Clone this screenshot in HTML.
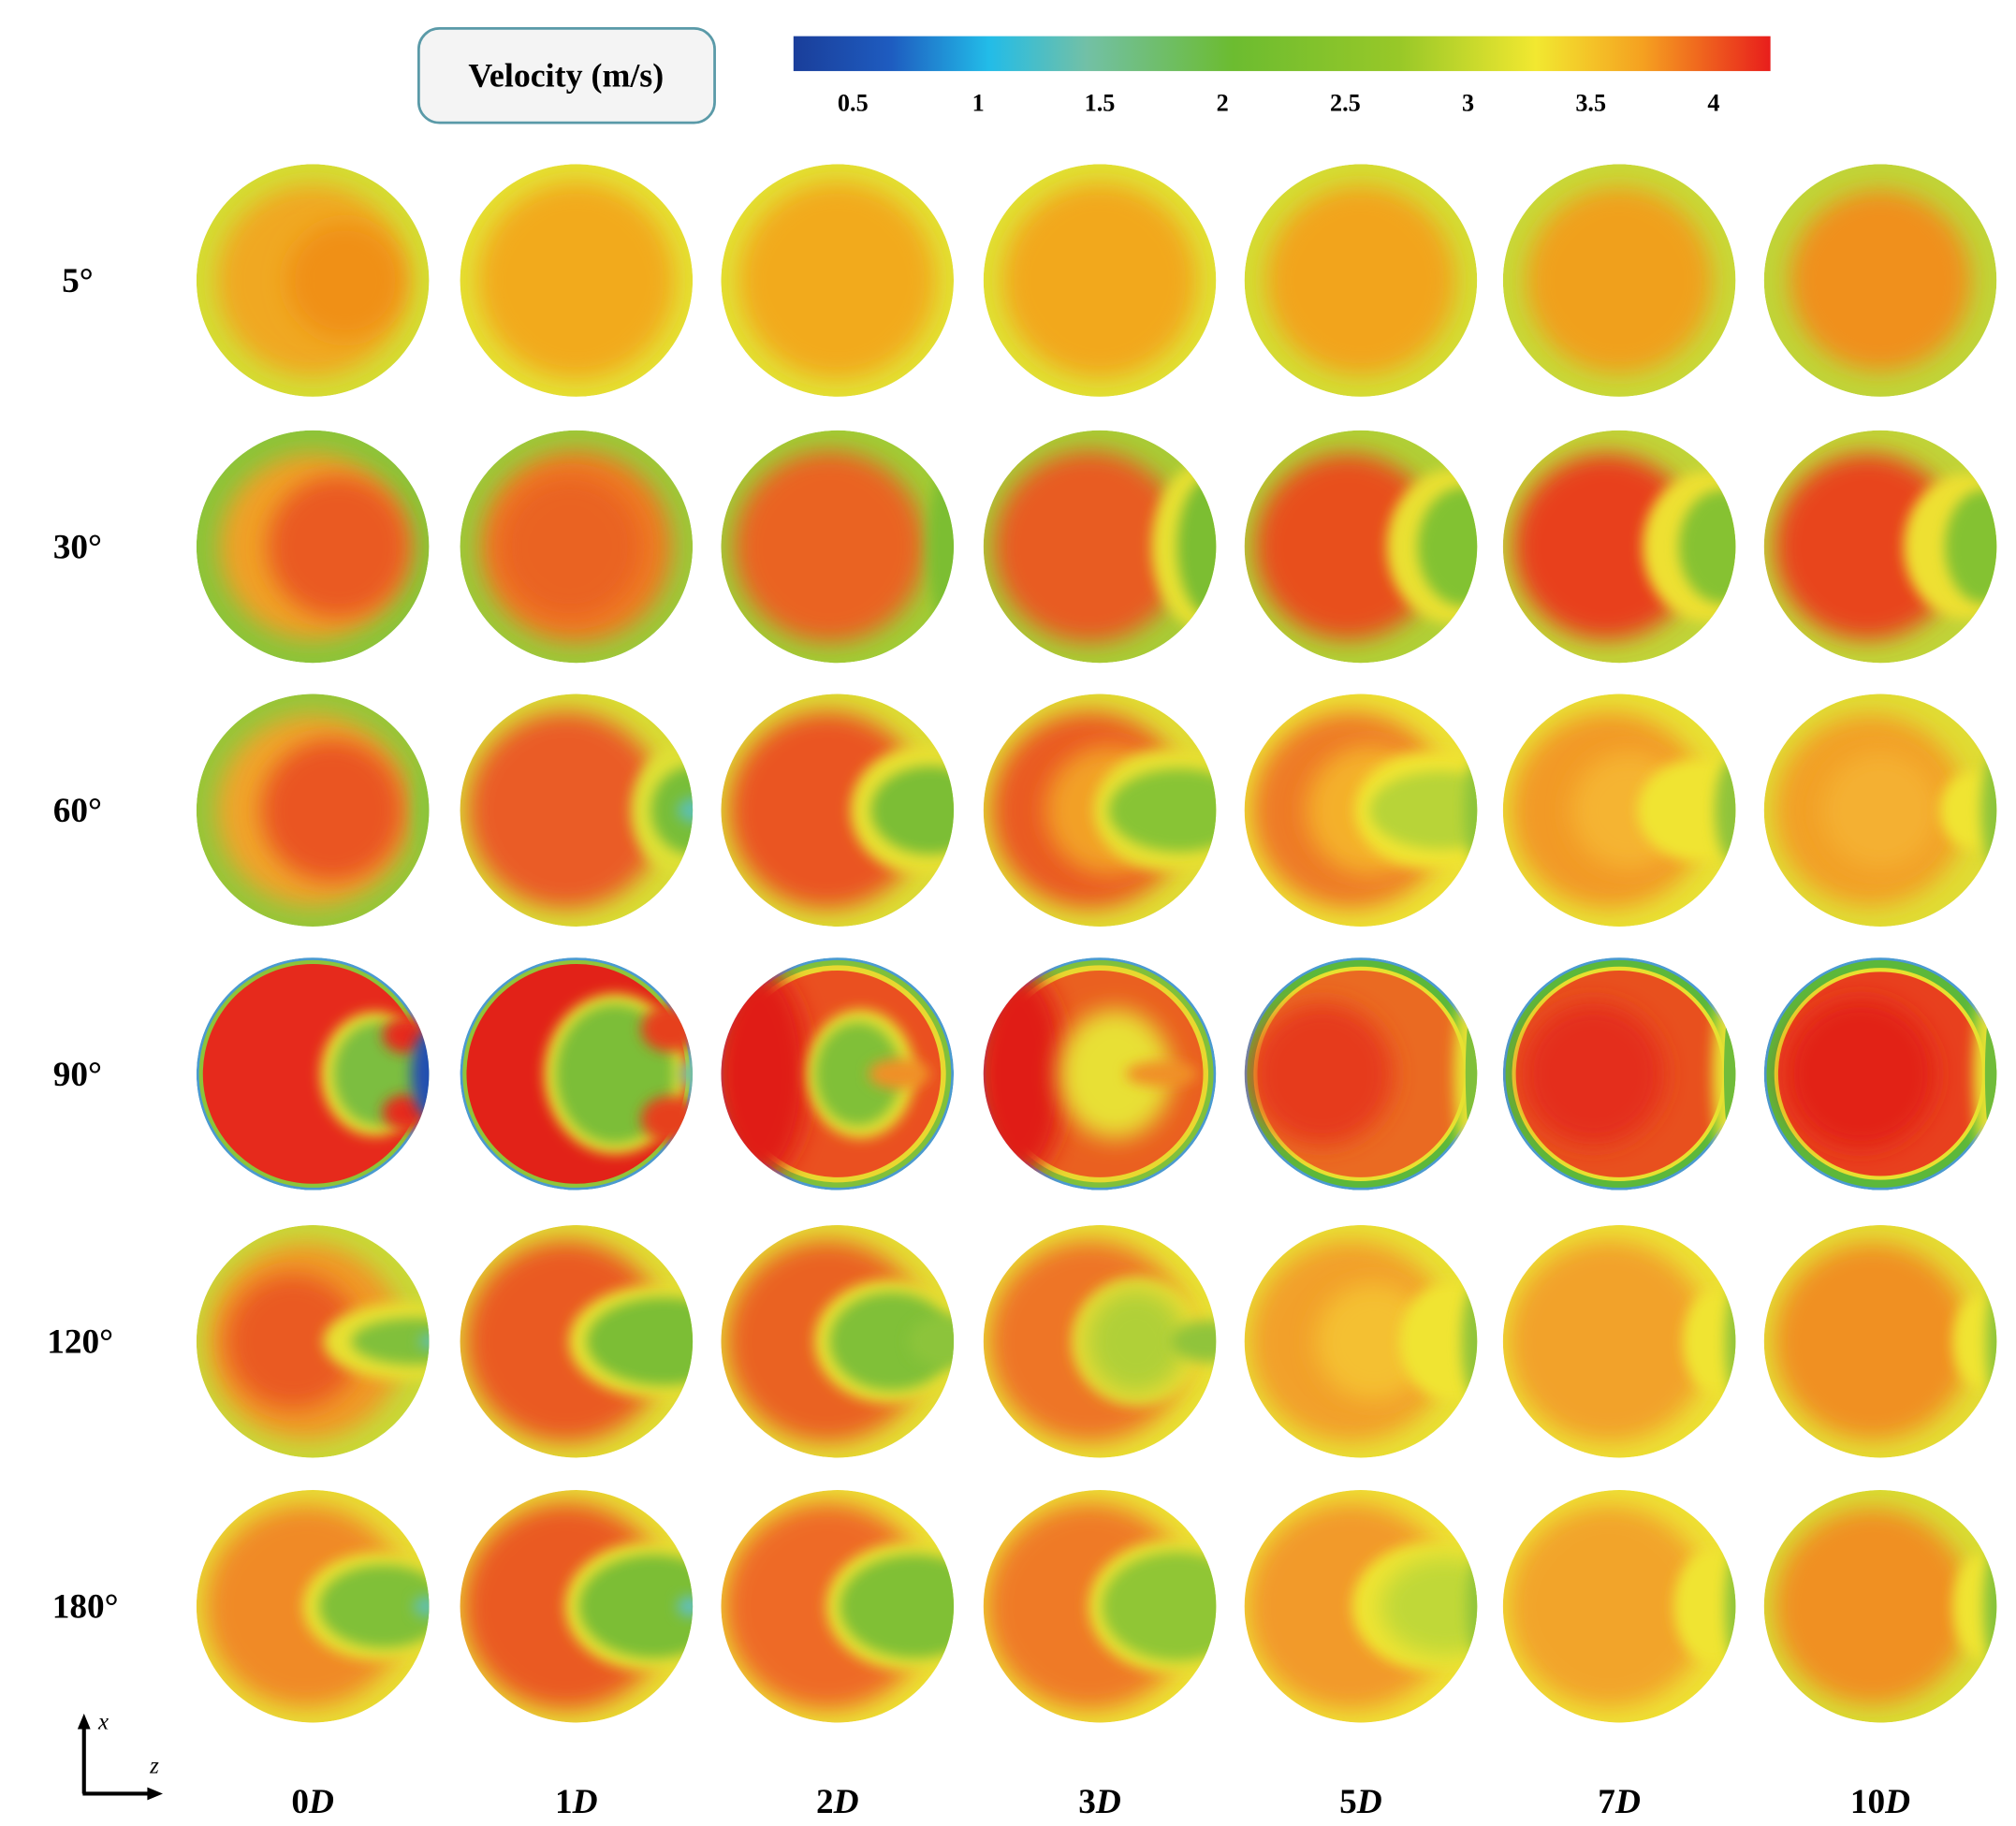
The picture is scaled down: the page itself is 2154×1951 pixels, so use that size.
<!DOCTYPE html>
<html><head><meta charset="utf-8"><style>html,body{margin:0;padding:0;background:#fff}svg{display:block}</style></head>
<body>
<svg width="2154" height="1951" viewBox="0 0 1560 1413" preserveAspectRatio="none" xmlns="http://www.w3.org/2000/svg">
<defs>
<linearGradient id="cb" x1="0" x2="1" y1="0" y2="0">
<stop offset="0" stop-color="#1a3e9a"/><stop offset="0.1" stop-color="#1e5cc0"/><stop offset="0.2" stop-color="#22bce8"/><stop offset="0.3" stop-color="#72c0a6"/><stop offset="0.45" stop-color="#6cbc30"/><stop offset="0.62" stop-color="#98c828"/><stop offset="0.76" stop-color="#f2e830"/><stop offset="0.87" stop-color="#f5a020"/><stop offset="1" stop-color="#e81e1c"/>
</linearGradient>
<clipPath id="c"><circle cx="0" cy="0" r="90"/></clipPath>
<filter id="b" x="-50%" y="-50%" width="200%" height="200%"><feGaussianBlur stdDeviation="9"/></filter>
<filter id="s" x="-50%" y="-50%" width="200%" height="200%"><feGaussianBlur stdDeviation="5"/></filter>
</defs>
<rect width="1560" height="1413" fill="#fff"/>
<rect x="324" y="22" width="229" height="73" rx="16" fill="#f4f4f4" stroke="#5a9aa8" stroke-width="2"/>
<text x="438" y="67" text-anchor="middle" font-family="Liberation Serif, serif" font-weight="bold" font-size="26">Velocity (m/s)</text>
<rect x="614" y="28" width="756" height="27" fill="url(#cb)"/>
<g font-family="Liberation Serif, serif" font-weight="bold" font-size="19" text-anchor="middle">
<text x="660" y="86">0.5</text><text x="757" y="86">1</text><text x="851" y="86">1.5</text><text x="946" y="86">2</text><text x="1041" y="86">2.5</text><text x="1136" y="86">3</text><text x="1231" y="86">3.5</text><text x="1326" y="86">4</text>
</g>
<g font-family="Liberation Serif, serif" font-weight="bold" font-size="27" text-anchor="middle">
<text x="60" y="226">5°</text><text x="60" y="432">30°</text><text x="60" y="636">60°</text><text x="60" y="840">90°</text><text x="62" y="1047">120°</text><text x="66" y="1252">180°</text>
</g>
<g font-family="Liberation Serif, serif" font-weight="bold" font-size="27" text-anchor="middle">
<text x="242" y="1403">0<tspan font-style="italic">D</tspan></text><text x="446" y="1403">1<tspan font-style="italic">D</tspan></text><text x="648" y="1403">2<tspan font-style="italic">D</tspan></text><text x="851" y="1403">3<tspan font-style="italic">D</tspan></text><text x="1053" y="1403">5<tspan font-style="italic">D</tspan></text><text x="1253" y="1403">7<tspan font-style="italic">D</tspan></text><text x="1455" y="1403">10<tspan font-style="italic">D</tspan></text>
</g>
<g stroke="#000" stroke-width="3" fill="none"><path d="M65 1388 V1335"/><path d="M64 1388 H118"/></g>
<path d="M65 1326 l-5 12 h10z M126 1388 l-12 -5 v10z" fill="#000"/>
<text x="76" y="1338" font-family="Liberation Serif, serif" font-style="italic" font-size="18">x</text>
<text x="116" y="1372" font-family="Liberation Serif, serif" font-style="italic" font-size="18">z</text>

<!-- ROW 5 -->
<g transform="translate(242,217)"><g clip-path="url(#c)"><circle r="90" fill="#d4dc34"/><circle r="74" fill="#f0a820" filter="url(#b)"/><circle cx="25" r="45" fill="#f09018" filter="url(#b)"/></g></g>
<g transform="translate(446,217)"><g clip-path="url(#c)"><circle r="90" fill="#e4e034"/><circle r="76" fill="#f2aa1c" filter="url(#b)"/></g></g>
<g transform="translate(648,217)"><g clip-path="url(#c)"><circle r="90" fill="#e2e034"/><circle r="76" fill="#f2aa1c" filter="url(#b)"/></g></g>
<g transform="translate(851,217)"><g clip-path="url(#c)"><circle r="90" fill="#e0e034"/><circle r="75" fill="#f2a81c" filter="url(#b)"/></g></g>
<g transform="translate(1053,217)"><g clip-path="url(#c)"><circle r="90" fill="#d4dc34"/><circle r="73" fill="#f2a41c" filter="url(#b)"/></g></g>
<g transform="translate(1253,217)"><g clip-path="url(#c)"><circle r="90" fill="#c8d838"/><circle r="72" fill="#f0a01c" filter="url(#b)"/></g></g>
<g transform="translate(1455,217)"><g clip-path="url(#c)"><circle r="90" fill="#c0d438"/><circle r="70" fill="#f0901c" filter="url(#b)"/></g></g>

<!-- ROW 30 -->
<g transform="translate(242,423)"><g clip-path="url(#c)"><circle r="90" fill="#8cc43a"/><circle r="72" fill="#f0a028" filter="url(#b)"/><circle cx="20" r="55" fill="#ea5a24" filter="url(#b)"/></g></g>
<g transform="translate(446,423)"><g clip-path="url(#c)"><circle r="90" fill="#9cc83a"/><circle r="74" fill="#ee7a24" filter="url(#b)"/><circle cx="-5" r="55" fill="#ea6424" filter="url(#b)"/></g></g>
<g transform="translate(648,423)"><g clip-path="url(#c)"><circle r="90" fill="#a0cc36"/><circle cx="-6" r="74" fill="#ea6424" filter="url(#b)"/><ellipse cx="92" rx="22" ry="70" fill="#7cbe32" filter="url(#s)"/></g></g>
<g transform="translate(851,423)"><g clip-path="url(#c)"><circle r="90" fill="#a8cc36"/><circle cx="-8" r="74" fill="#e85c22" filter="url(#b)"/><ellipse cx="82" rx="42" ry="65" fill="#e8e030" filter="url(#s)"/><ellipse cx="88" rx="28" ry="55" fill="#7cbe32" filter="url(#s)"/></g></g>
<g transform="translate(1053,423)"><g clip-path="url(#c)"><circle r="90" fill="#b0d036"/><circle cx="-10" r="72" fill="#e8501e" filter="url(#b)"/><ellipse cx="72" rx="52" ry="60" fill="#eae030" filter="url(#s)"/><ellipse cx="80" rx="36" ry="46" fill="#82c232" filter="url(#s)"/></g></g>
<g transform="translate(1253,423)"><g clip-path="url(#c)"><circle r="90" fill="#c0d438"/><circle cx="-10" r="72" fill="#e8401e" filter="url(#b)"/><ellipse cx="68" rx="50" ry="58" fill="#eee030" filter="url(#s)"/><ellipse cx="80" rx="34" ry="44" fill="#86c232" filter="url(#s)"/></g></g>
<g transform="translate(1455,423)"><g clip-path="url(#c)"><circle r="90" fill="#c0d438"/><circle cx="-10" r="72" fill="#e8441e" filter="url(#b)"/><ellipse cx="66" rx="48" ry="56" fill="#eee030" filter="url(#s)"/><ellipse cx="80" rx="30" ry="44" fill="#84c232" filter="url(#s)"/></g></g>

<!-- ROW 60 -->
<g transform="translate(242,627)"><g clip-path="url(#c)"><circle r="90" fill="#96c63a"/><circle r="74" fill="#f0a42a" filter="url(#b)"/><circle cx="15" r="55" fill="#ea5424" filter="url(#b)"/><ellipse cx="92" rx="12" ry="40" fill="#8cc43a" filter="url(#s)"/></g></g>
<g transform="translate(446,627)"><g clip-path="url(#c)"><circle r="90" fill="#d8dc34"/><circle cx="-8" r="76" fill="#ea5c26" filter="url(#b)"/><ellipse cx="82" rx="40" ry="50" fill="#dfe034" filter="url(#s)"/><ellipse cx="90" rx="32" ry="34" fill="#78be38" filter="url(#s)"/><ellipse cx="92" rx="14" ry="10" fill="#5cc0b0" filter="url(#s)"/></g></g>
<g transform="translate(648,627)"><g clip-path="url(#c)"><circle r="90" fill="#dcdc34"/><circle cx="-8" r="76" fill="#ea5424" filter="url(#b)"/><ellipse cx="65" rx="55" ry="50" fill="#e8e030" filter="url(#s)"/><ellipse cx="72" rx="46" ry="34" fill="#7cbe34" filter="url(#s)"/></g></g>
<g transform="translate(851,627)"><g clip-path="url(#c)"><circle r="90" fill="#e0dc34"/><circle cx="-8" r="76" fill="#ea5a22" filter="url(#b)"/><circle cx="8" r="50" fill="#f2a028" filter="url(#b)"/><ellipse cx="55" rx="60" ry="48" fill="#e8e030" filter="url(#s)"/><ellipse cx="62" rx="55" ry="32" fill="#88c434" filter="url(#s)"/></g></g>
<g transform="translate(1053,627)"><g clip-path="url(#c)"><circle r="90" fill="#ece034"/><circle cx="-8" r="76" fill="#ee7a28" filter="url(#b)"/><circle cx="8" r="50" fill="#f4b02a" filter="url(#b)"/><ellipse cx="55" rx="60" ry="46" fill="#f0e432" filter="url(#s)"/><ellipse cx="62" rx="55" ry="30" fill="#b8d438" filter="url(#s)"/><ellipse cx="90" rx="10" ry="40" fill="#8cc43a" filter="url(#s)"/></g></g>
<g transform="translate(1253,627)"><g clip-path="url(#c)"><circle r="90" fill="#e8e034"/><circle cx="-8" r="76" fill="#f29a28" filter="url(#b)"/><circle cx="8" r="45" fill="#f5b430" filter="url(#b)"/><ellipse cx="62" rx="48" ry="40" fill="#f0e432" filter="url(#s)"/><ellipse cx="88" rx="14" ry="40" fill="#90c43a" filter="url(#s)"/></g></g>
<g transform="translate(1455,627)"><g clip-path="url(#c)"><circle r="90" fill="#e0dc34"/><circle cx="-8" r="74" fill="#f2a028" filter="url(#b)"/><circle cx="0" r="45" fill="#f4b030" filter="url(#b)"/><ellipse cx="72" rx="26" ry="30" fill="#f0e432" filter="url(#s)"/><ellipse cx="90" rx="12" ry="45" fill="#8cc43a" filter="url(#s)"/></g></g>

<!-- ROW 90 -->
<g transform="translate(242,831)"><g clip-path="url(#c)"><circle r="90" fill="#4a9ad0"/><circle r="88" fill="#8cc43a"/><circle r="85" fill="#e62a1c"/><ellipse cx="48" rx="42" ry="48" fill="#e8e030" filter="url(#s)"/><ellipse cx="50" rx="34" ry="40" fill="#7cbe40" filter="url(#s)"/><ellipse cx="72" cy="-30" rx="18" ry="14" fill="#e62a1c" filter="url(#s)"/><ellipse cx="72" cy="30" rx="18" ry="14" fill="#e62a1c" filter="url(#s)"/><ellipse cx="90" rx="14" ry="34" fill="#2050b0" filter="url(#s)"/></g></g>
<g transform="translate(446,831)"><g clip-path="url(#c)"><circle r="90" fill="#4a9ad0"/><circle r="88" fill="#90c43a"/><circle r="85" fill="#e22218"/><ellipse cx="30" rx="55" ry="62" fill="#e8e030" filter="url(#s)"/><ellipse cx="30" rx="46" ry="54" fill="#7cbe38" filter="url(#s)"/><ellipse cx="72" cy="-35" rx="22" ry="18" fill="#e6401e" filter="url(#s)"/><ellipse cx="72" cy="35" rx="22" ry="18" fill="#e6401e" filter="url(#s)"/><ellipse cx="90" rx="10" ry="10" fill="#78c0a0" filter="url(#s)"/></g></g>
<g transform="translate(648,831)"><g clip-path="url(#c)"><circle r="90" fill="#4a9ad0"/><circle r="88" fill="#80c03a"/><circle r="84" fill="#e8d830"/><circle r="80" fill="#ea5020"/><ellipse cx="-60" rx="38" ry="82" fill="#e01e18" filter="url(#b)"/><ellipse cx="18" rx="42" ry="50" fill="#e8e030" filter="url(#s)"/><ellipse cx="16" rx="33" ry="40" fill="#80c038" filter="url(#s)"/><ellipse cx="48" rx="24" ry="12" fill="#f09028" filter="url(#s)"/></g></g>
<g transform="translate(851,831)"><g clip-path="url(#c)"><circle r="90" fill="#4a9ad0"/><circle r="88" fill="#80c03a"/><circle r="84" fill="#e8d830"/><circle r="80" fill="#ea6020"/><ellipse cx="-62" rx="36" ry="80" fill="#e01e18" filter="url(#b)"/><ellipse cx="12" rx="44" ry="50" fill="#e8e034" filter="url(#b)"/><ellipse cx="48" rx="28" ry="10" fill="#f09028" filter="url(#s)"/></g></g>
<g transform="translate(1053,831)"><g clip-path="url(#c)"><circle r="90" fill="#4a9ad0"/><circle r="88" fill="#5cb83a"/><circle r="83" fill="#e8e030"/><circle r="80" fill="#ea6a22"/><circle cx="-30" r="55" fill="#e63a1c" filter="url(#b)"/><ellipse cx="92" rx="20" ry="85" fill="#e8e030" filter="url(#s)"/><ellipse cx="95" rx="14" ry="80" fill="#80c03a"/></g></g>
<g transform="translate(1253,831)"><g clip-path="url(#c)"><circle r="90" fill="#4a9ad0"/><circle r="88" fill="#5cb83a"/><circle r="83" fill="#e8e030"/><circle r="80" fill="#e8501e"/><circle cx="-20" r="55" fill="#e42e1c" filter="url(#b)"/><ellipse cx="92" rx="20" ry="85" fill="#e8e030" filter="url(#s)"/><ellipse cx="95" rx="14" ry="80" fill="#70bc3a"/></g></g>
<g transform="translate(1455,831)"><g clip-path="url(#c)"><circle r="90" fill="#4a9ad0"/><circle r="88" fill="#5cb83a"/><circle r="82" fill="#e8e030"/><circle r="79" fill="#e8401e"/><circle cx="-15" r="58" fill="#e22418" filter="url(#b)"/><ellipse cx="92" rx="20" ry="85" fill="#e8e030" filter="url(#s)"/><ellipse cx="95" rx="14" ry="80" fill="#70bc3a"/></g></g>

<!-- ROW 120 -->
<g transform="translate(242,1038)"><g clip-path="url(#c)"><circle r="90" fill="#c8d838"/><circle cx="-5" r="76" fill="#f09828" filter="url(#b)"/><circle cx="-15" r="52" fill="#ea5a24" filter="url(#b)"/><ellipse cx="70" rx="62" ry="30" fill="#e8e030" filter="url(#s)"/><ellipse cx="80" rx="50" ry="18" fill="#80c03a" filter="url(#s)"/><ellipse cx="92" rx="10" ry="6" fill="#60c0b0" filter="url(#s)"/></g></g>
<g transform="translate(446,1038)"><g clip-path="url(#c)"><circle r="90" fill="#e0dc34"/><circle cx="-8" r="78" fill="#ea5a24" filter="url(#b)"/><ellipse cx="62" rx="68" ry="44" fill="#e8e030" filter="url(#s)"/><ellipse cx="68" rx="60" ry="34" fill="#7cbe34" filter="url(#s)"/></g></g>
<g transform="translate(648,1038)"><g clip-path="url(#c)"><circle r="90" fill="#e4dc34"/><circle cx="-8" r="78" fill="#ea6224" filter="url(#b)"/><ellipse cx="40" rx="58" ry="48" fill="#e8e030" filter="url(#s)"/><ellipse cx="42" rx="48" ry="38" fill="#80c038" filter="url(#s)"/><ellipse cx="85" rx="30" ry="20" fill="#8cc43a" filter="url(#s)"/></g></g>
<g transform="translate(851,1038)"><g clip-path="url(#c)"><circle r="90" fill="#e8e034"/><circle cx="-8" r="78" fill="#ee7428" filter="url(#b)"/><ellipse cx="30" rx="52" ry="50" fill="#ecdc30" filter="url(#s)"/><ellipse cx="28" rx="38" ry="40" fill="#b0d038" filter="url(#b)"/><ellipse cx="85" rx="30" ry="16" fill="#90c43a" filter="url(#s)"/></g></g>
<g transform="translate(1053,1038)"><g clip-path="url(#c)"><circle r="90" fill="#e8e034"/><circle cx="-8" r="78" fill="#f2a02a" filter="url(#b)"/><circle cx="10" r="45" fill="#f4c030" filter="url(#b)"/><ellipse cx="70" rx="40" ry="46" fill="#f0e432" filter="url(#s)"/><ellipse cx="90" rx="12" ry="45" fill="#90c43a" filter="url(#s)"/></g></g>
<g transform="translate(1253,1038)"><g clip-path="url(#c)"><circle r="90" fill="#ece034"/><circle cx="-8" r="78" fill="#f2a22a" filter="url(#b)"/><ellipse cx="75" rx="26" ry="40" fill="#f0e432" filter="url(#s)"/><ellipse cx="92" rx="10" ry="45" fill="#90c43a" filter="url(#s)"/></g></g>
<g transform="translate(1455,1038)"><g clip-path="url(#c)"><circle r="90" fill="#e4dc34"/><circle cx="-6" r="76" fill="#f09020" filter="url(#b)"/><ellipse cx="78" rx="22" ry="36" fill="#f0e432" filter="url(#s)"/><ellipse cx="92" rx="10" ry="48" fill="#8cc43a" filter="url(#s)"/></g></g>

<!-- ROW 180 -->
<g transform="translate(242,1243)"><g clip-path="url(#c)"><circle r="90" fill="#e8dc34"/><circle cx="-5" r="78" fill="#f08a28" filter="url(#b)"/><ellipse cx="50" rx="58" ry="42" fill="#e8e030" filter="url(#s)"/><ellipse cx="55" rx="50" ry="32" fill="#80c038" filter="url(#s)"/><ellipse cx="88" rx="10" ry="8" fill="#60c0b0" filter="url(#s)"/></g></g>
<g transform="translate(446,1243)"><g clip-path="url(#c)"><circle r="90" fill="#e8dc34"/><circle cx="-8" r="80" fill="#ea5a24" filter="url(#b)"/><ellipse cx="55" rx="64" ry="50" fill="#e8e030" filter="url(#s)"/><ellipse cx="60" rx="58" ry="40" fill="#7cbe34" filter="url(#s)"/><ellipse cx="88" rx="10" ry="8" fill="#60c0c0" filter="url(#s)"/></g></g>
<g transform="translate(648,1243)"><g clip-path="url(#c)"><circle r="90" fill="#ece034"/><circle cx="-8" r="80" fill="#ee6a26" filter="url(#b)"/><ellipse cx="55" rx="64" ry="50" fill="#e8e030" filter="url(#s)"/><ellipse cx="60" rx="58" ry="40" fill="#80c034" filter="url(#s)"/></g></g>
<g transform="translate(851,1243)"><g clip-path="url(#c)"><circle r="90" fill="#ece034"/><circle cx="-8" r="80" fill="#ef7a28" filter="url(#b)"/><ellipse cx="55" rx="64" ry="52" fill="#e8e030" filter="url(#s)"/><ellipse cx="60" rx="58" ry="42" fill="#90c634" filter="url(#s)"/></g></g>
<g transform="translate(1053,1243)"><g clip-path="url(#c)"><circle r="90" fill="#eee034"/><circle cx="-8" r="80" fill="#f29a2a" filter="url(#b)"/><ellipse cx="55" rx="62" ry="50" fill="#f0e432" filter="url(#s)"/><ellipse cx="65" rx="50" ry="38" fill="#c0d838" filter="url(#b)"/><ellipse cx="92" rx="10" ry="40" fill="#90c43a" filter="url(#s)"/></g></g>
<g transform="translate(1253,1243)"><g clip-path="url(#c)"><circle r="90" fill="#eee034"/><circle cx="-8" r="78" fill="#f2a42a" filter="url(#b)"/><ellipse cx="72" rx="30" ry="44" fill="#f0e432" filter="url(#s)"/><ellipse cx="92" rx="10" ry="46" fill="#8cc43a" filter="url(#s)"/></g></g>
<g transform="translate(1455,1243)"><g clip-path="url(#c)"><circle r="90" fill="#d8dc34"/><circle cx="-6" r="76" fill="#f09020" filter="url(#b)"/><ellipse cx="78" rx="22" ry="40" fill="#f0e432" filter="url(#s)"/><ellipse cx="92" rx="12" ry="50" fill="#84c23a" filter="url(#s)"/></g></g>
</svg>
</body></html>
